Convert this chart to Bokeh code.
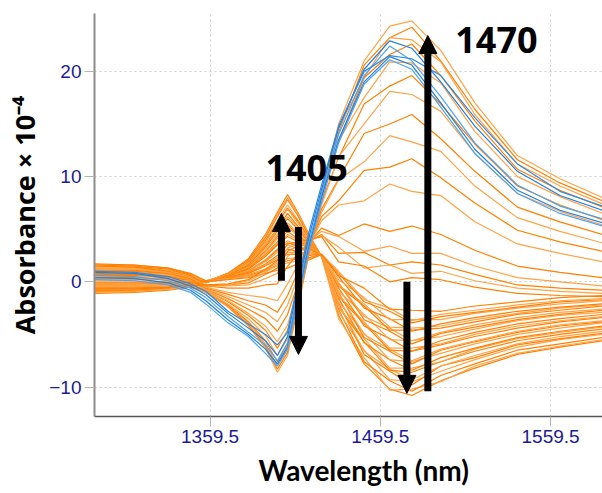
from bokeh.plotting import figure
from bokeh.models import FixedTicker, Arrow, NormalHead, Label, Title
from bokeh.embed import file_html
from bokeh.resources import INLINE

# ---- data (absorbance x 1e-4) ----
wavelengths = [1292, 1315, 1335, 1348, 1357, 1370, 1382, 1392, 1399, 1405, 1411,
               1418, 1425, 1435, 1450, 1465, 1478, 1495, 1515, 1540, 1565, 1590]

# orange spectra: 1405 band rising / 1470 band falling
orange_group_a = [
    [1.6, 1.6, 1.3, 0.7, 0.0, 0.8, 2.2, 4.5, 6.6, 8.3, 6.6, 4.4, 2.4, -3.2, -7.8, -10.2, -10.8, -9.4, -8.2, -6.9, -6.2, -5.6],
    [0.3, 0.3, 0.3, 0.1, 0.0, 0.8, 2.1, 4.4, 6.4, 8.0, 6.5, 4.3, 2.4, -3.5, -7.2, -10.3, -10.2, -9.5, -8.0, -6.8, -6.1, -5.5],
    [-0.9, -0.9, -0.7, -0.4, 0.0, 0.8, 2.1, 4.2, 6.2, 7.8, 6.3, 4.2, 2.4, -2.6, -7.6, -9.4, -10.4, -8.9, -7.8, -6.5, -5.9, -5.3],
    [1.2, 1.2, 1.0, 0.5, 0.1, 0.7, 1.9, 4.0, 5.8, 7.3, 5.9, 4.1, 2.4, -2.9, -6.5, -9.3, -9.5, -8.5, -7.4, -6.2, -5.5, -5.0],
    [-0.3, -0.3, -0.2, -0.1, 0.0, 0.7, 1.9, 3.9, 5.6, 7.0, 5.8, 4.0, 2.4, -2.0, -6.9, -8.5, -9.8, -8.0, -7.2, -6.0, -5.4, -4.9],
    [-0.4, -0.4, -0.3, -0.2, 0.0, 0.7, 1.8, 3.7, 5.5, 6.9, 5.6, 3.9, 2.4, -2.1, -6.6, -8.3, -9.3, -8.0, -7.0, -5.9, -5.2, -4.7],
    [0.8, 0.8, 0.6, 0.3, -0.1, 0.6, 1.7, 3.5, 5.1, 6.5, 5.3, 3.8, 2.5, -2.4, -5.7, -8.4, -8.6, -7.6, -6.6, -5.6, -5.0, -4.5],
    [1.1, 1.1, 0.9, 0.5, 0.1, 0.6, 1.7, 3.4, 5.0, 6.2, 5.2, 3.7, 2.5, -2.4, -5.4, -8.2, -8.2, -7.6, -6.4, -5.4, -4.8, -4.3],
    [-1.1, -1.0, -0.8, -0.5, 0.0, 0.6, 1.6, 3.3, 4.8, 6.0, 5.0, 3.6, 2.5, -1.6, -5.8, -7.4, -8.4, -7.2, -6.3, -5.3, -4.7, -4.2],
    [1.4, 1.4, 1.1, 0.6, 0.1, 0.6, 1.5, 3.1, 4.5, 5.6, 4.7, 3.5, 2.5, -1.9, -4.9, -7.4, -7.6, -6.8, -5.9, -5.0, -4.4, -3.9],
    [-0.5, -0.5, -0.4, -0.2, 0.0, 0.6, 1.5, 2.9, 4.3, 5.4, 4.5, 3.4, 2.5, -1.0, -5.3, -6.6, -7.8, -6.5, -5.7, -4.8, -4.2, -3.8],
    [0.2, 0.2, 0.2, 0.1, 0.0, 0.5, 1.4, 2.8, 4.1, 5.2, 4.4, 3.3, 2.5, -1.1, -5.0, -6.4, -7.5, -6.4, -5.6, -4.7, -4.1, -3.7],
    [-0.7, -0.7, -0.5, -0.3, 0.0, 0.5, 1.3, 2.6, 3.8, 4.8, 4.1, 3.2, 2.5, -1.4, -4.0, -6.5, -6.6, -6.0, -5.2, -4.4, -3.8, -3.4],
    [0.9, 0.9, 0.7, 0.3, 0.0, 0.5, 1.2, 2.5, 3.6, 4.5, 4.0, 3.1, 2.5, -1.3, -3.8, -6.3, -6.3, -5.9, -5.0, -4.2, -3.7, -3.3],
    [1.0, 1.0, 0.8, 0.4, 0.0, 0.5, 1.2, 2.4, 3.5, 4.3, 3.8, 3.1, 2.5, -0.6, -4.2, -5.4, -6.6, -5.6, -4.8, -4.0, -3.5, -3.1],
    [-0.2, -0.2, -0.1, 0.0, 0.0, 0.4, 1.1, 2.1, 3.1, 3.9, 3.5, 2.9, 2.5, -0.9, -3.1, -5.5, -5.6, -5.2, -4.5, -3.7, -3.2, -2.9],
    [-0.8, -0.8, -0.6, -0.4, 0.0, 0.4, 1.0, 2.0, 3.0, 3.7, 3.4, 2.8, 2.5, -0.1, -3.6, -4.7, -5.9, -4.9, -4.3, -3.6, -3.1, -2.7],
    [0.5, 0.5, 0.4, 0.2, 0.0, 0.4, 1.0, 1.9, 2.8, 3.5, 3.2, 2.8, 2.5, -0.1, -3.3, -4.4, -5.6, -4.8, -4.1, -3.4, -2.9, -2.6],
    [-0.6, -0.6, -0.5, -0.3, 0.0, 0.4, 0.9, 1.7, 2.5, 3.1, 2.9, 2.6, 2.6, -0.4, -2.3, -4.6, -4.6, -4.4, -3.8, -3.1, -2.7, -2.3],
    [1.3, 1.3, 1.0, 0.6, 0.1, 0.3, 0.8, 1.6, 2.3, 2.8, 2.8, 2.6, 2.6, -0.3, -2.1, -4.3, -4.4, -4.2, -3.6, -3.0, -2.5, -2.2],
    [1.7, 1.6, 1.3, 0.8, 0.1, 0.3, 0.8, 1.5, 2.1, 2.6, 2.6, 2.5, 2.6, 0.5, -2.5, -3.5, -4.7, -4.0, -3.4, -2.8, -2.4, -2.1],
    [0.0, 0.0, 0.0, 0.0, 0.0, 0.3, 0.7, 1.2, 1.8, 2.2, 2.3, 2.3, 2.6, 0.2, -1.5, -3.6, -3.6, -3.6, -3.0, -2.5, -2.1, -1.8],
    [-0.3, -0.3, -0.2, -0.1, 0.0, 0.3, 0.6, 1.1, 1.6, 2.0, 2.2, 2.3, 2.6, 0.8, -1.9, -2.8, -3.9, -3.3, -2.9, -2.4, -1.9, -1.7],
    [-1.0, -0.9, -0.7, -0.5, 0.0, 0.3, 0.5, 1.0, 1.5, 1.8, 2.0, 2.2, 2.6, 1.0, -1.7, -2.5, -3.7, -3.1, -2.7, -2.2, -1.8, -1.6],
    [0.6, 0.6, 0.5, 0.2, 0.0, 0.2, 0.4, 0.8, 1.1, 1.3, 1.7, 2.1, 2.6, 0.6, -0.6, -2.6, -2.7, -2.8, -2.3, -1.9, -1.5, -1.3],
]

# orange spectra: 1405 band falling / 1470 band rising
orange_group_b = [
    [1.3, 1.2, 0.8, 0.2, -1.0, -2.4, -4.2, -6.3, -8.6, -7.0, -2.5, 3.0, 8.5, 15.0, 21.0, 24.3, 24.8, 22.0, 17.0, 12.0, 9.8, 8.0],
    [0.4, 0.4, 0.2, -0.2, -1.0, -2.3, -4.1, -6.1, -8.3, -6.7, -2.3, 3.0, 8.4, 14.2, 20.6, 23.2, 24.2, 21.0, 16.4, 11.6, 9.4, 7.7],
    [-0.5, -0.5, -0.4, -0.5, -1.0, -2.3, -3.9, -5.9, -8.0, -6.4, -2.1, 3.1, 8.2, 14.6, 19.4, 23.2, 23.0, 20.9, 15.9, 11.2, 9.1, 7.4],
    [1.5, 1.4, 1.0, 0.4, -0.9, -2.2, -3.8, -5.6, -7.6, -6.0, -1.9, 3.1, 8.1, 13.4, 19.4, 21.6, 22.6, 19.6, 15.3, 10.7, 8.7, 7.1],
    [0.9, 0.9, 0.6, 0.1, -0.9, -2.1, -3.5, -5.1, -7.0, -5.4, -1.5, 3.2, 7.9, 13.4, 17.5, 20.9, 20.8, 18.9, 14.3, 10.0, 8.1, 6.5],
    [-0.8, -0.8, -0.6, -0.5, -0.8, -1.9, -3.2, -4.6, -6.3, -4.6, -1.1, 3.2, 7.6, 11.8, 16.9, 18.6, 19.6, 16.9, 13.1, 9.1, 7.3, 5.9],
    [0.1, 0.1, 0.0, -0.2, -0.8, -1.8, -3.0, -4.2, -5.7, -4.1, -0.8, 3.3, 7.3, 11.9, 15.0, 18.1, 17.8, 16.2, 12.2, 8.4, 6.7, 5.4],
    [1.1, 1.1, 0.8, 0.3, -0.7, -1.6, -2.6, -3.5, -4.7, -3.1, -0.2, 3.4, 6.9, 9.8, 14.1, 15.0, 15.9, 13.6, 10.5, 7.1, 5.7, 4.5],
    [-0.3, -0.3, -0.2, -0.2, -0.7, -1.4, -2.2, -2.9, -3.8, -2.2, 0.4, 3.4, 6.6, 9.7, 11.4, 13.9, 13.3, 12.4, 9.1, 6.1, 4.8, 3.7],
    [0.7, 0.7, 0.5, 0.1, -0.6, -1.2, -1.8, -2.2, -2.9, -1.3, 0.9, 3.5, 6.2, 7.7, 10.6, 10.9, 11.7, 9.9, 7.5, 4.9, 3.8, 2.9],
    [-1.0, -0.9, -0.7, -0.4, -0.5, -1.0, -1.3, -1.5, -1.8, -0.2, 1.6, 3.6, 5.8, 7.3, 7.7, 9.3, 8.6, 8.2, 5.7, 3.6, 2.7, 1.9],
    [1.6, 1.5, 1.2, 0.6, -0.4, -0.6, -0.6, -0.3, -0.2, 1.5, 2.6, 3.8, 5.1, 4.4, 5.5, 4.8, 5.3, 4.5, 3.0, 1.5, 0.9, 0.4],
    [0.3, 0.3, 0.2, 0.1, -0.4, -0.4, -0.3, 0.3, 0.8, 2.4, 3.1, 3.9, 4.8, 4.3, 2.9, 3.4, 2.7, 2.7, 1.5, 0.4, 0.0, -0.4],
    [-0.6, -0.6, -0.5, -0.3, -0.4, -0.3, -0.1, 0.7, 1.3, 2.9, 3.4, 3.9, 4.5, 2.7, 2.8, 1.6, 1.9, 1.6, 0.7, -0.3, -0.6, -0.8],
    [1.2, 1.2, 0.9, 0.4, -0.3, -0.3, 0.1, 0.9, 1.6, 3.2, 3.6, 3.9, 4.4, 3.3, 1.3, 1.6, 0.8, 1.0, 0.1, -0.6, -0.9, -1.1],
    [-0.1, -0.1, -0.1, 0.0, -0.3, -0.2, 0.2, 1.2, 2.0, 3.6, 3.8, 4.0, 4.3, 1.9, 1.5, 0.0, 0.4, 0.2, -0.5, -1.1, -1.3, -1.4],
]

# blue spectra
blue_spectra = [
    [0.9, 0.8, 0.3, -0.4, -1.2, -3.0, -4.4, -5.6, -7.0, -5.2, -0.4, 4.5, 8.8, 14.6, 20.2, 22.9, 22.2, 19.0, 14.8, 10.5, 8.2, 6.8],
    [0.6, 0.5, 0.1, -0.6, -1.5, -3.3, -4.8, -6.0, -7.5, -5.8, -1.0, 4.0, 8.4, 14.0, 19.6, 22.4, 21.0, 17.6, 13.2, 9.2, 7.2, 6.0],
    [0.4, 0.3, -0.1, -0.8, -1.8, -3.6, -5.0, -6.4, -7.8, -6.2, -1.5, 3.6, 8.0, 13.5, 19.0, 21.4, 20.6, 17.0, 12.6, 8.7, 6.8, 5.6],
    [0.2, 0.1, -0.3, -1.0, -2.1, -3.9, -5.2, -6.8, -8.0, -6.4, -1.8, 3.3, 7.6, 13.2, 18.8, 21.1, 20.2, 16.6, 12.2, 8.4, 6.5, 5.3],
    [1.0, 0.9, 0.5, -0.2, -0.9, -2.8, -4.0, -5.0, -6.0, -4.8, 0.0, 5.0, 9.2, 14.8, 20.0, 21.5, 21.2, 19.6, 15.6, 11.2, 8.6, 7.2],
]

x_ticks = [1359.5, 1459.5, 1559.5]
y_ticks = [-10, 0, 10, 20]

# ---- figure ----
p = figure(width=602, height=493, x_range=(1291.6, 1590), y_range=(-12.8, 25.5),
           output_backend="svg", toolbar_location=None,
           min_border_left=94, min_border_right=0, min_border_top=13, min_border_bottom=77)
p.outline_line_color = None
p.background_fill_color = "white"
p.border_fill_color = "white"

for g in (p.xgrid, p.ygrid):
    g.grid_line_color = "#cfcfcf"
    g.grid_line_dash = "2 3"
    g.grid_line_width = 1

p.xaxis.ticker = FixedTicker(ticks=x_ticks)
p.yaxis.ticker = FixedTicker(ticks=y_ticks)
p.xaxis.major_label_overrides = {t: f"{t:.1f}" for t in x_ticks}

for ax in (p.xaxis[0], p.yaxis[0]):
    ax.major_label_text_font = "Liberation Sans"
    ax.major_label_text_font_size = "19px"
    ax.major_label_text_color = "#1b1b96"
    ax.major_tick_line_color = "#b4b4b4"
    ax.major_tick_out = 10
    ax.major_tick_in = 0
    ax.minor_tick_line_color = None
    ax.axis_label_text_font = "Open Sans"
    ax.axis_label_text_font_style = "bold"
    ax.axis_label_text_color = "black"
    ax.major_label_standoff = 3

p.yaxis.axis_label = "Absorbance \u00d7 10\u207b\u2074"
p.yaxis.axis_label_text_font_size = "27px"
p.xaxis.axis_line_color = "#555555"
p.xaxis.axis_line_width = 1.5
p.yaxis.axis_line_color = "#8c8c8c"
p.yaxis.axis_line_width = 2
p.yaxis.axis_label_standoff = 3

# x-axis title: placed as a bottom title, left-aligned with an offset so that
# it sits right of the frame centre as in the original
p.add_layout(Title(text="Wavelength (nm)", align="left", offset=164,
                   text_font="Lato", text_font_style="bold",
                   text_font_size="28px", text_color="black", standoff=10), "below")

orange = orange_group_a + orange_group_b
o_colors = ["#ff8000" if i % 2 == 0 else "#ffa347" for i in range(len(orange))]
p.multi_line(xs=[wavelengths] * len(orange), ys=orange, line_color=o_colors, line_width=1.2)

b_colors = ["#1f7fe0", "#4aa3f5", "#1f7fe0", "#4aa3f5", "#2b8ae8"]
p.multi_line(xs=[wavelengths] * len(blue_spectra), ys=blue_spectra, line_color=b_colors, line_width=1.2)

# ---- arrows ----
def arrow(x0, y0, x1, y1):
    p.add_layout(Arrow(end=NormalHead(size=18, fill_color="black", line_color="black", line_width=1),
                       x_start=x0, y_start=y0, x_end=x1, y_end=y1,
                       line_width=7, line_color="black"))

arrow(1401.4, 0.1, 1401.4, 6.5)
arrow(1411.4, 5.2, 1411.4, -6.9)
arrow(1475.1, 0.0, 1475.1, -10.6)
arrow(1487.4, -10.4, 1487.4, 23.4)

for txt, x, y in (("1405", 1392.0, 10.8), ("1470", 1503.5, 23.0)):
    p.add_layout(Label(x=x, y=y, text=txt, text_font="Open Sans", text_font_style="bold",
                       text_font_size="36px", text_color="black",
                       text_align="left", text_baseline="alphabetic"))

open("out.html", "w").write(file_html(p, INLINE))
